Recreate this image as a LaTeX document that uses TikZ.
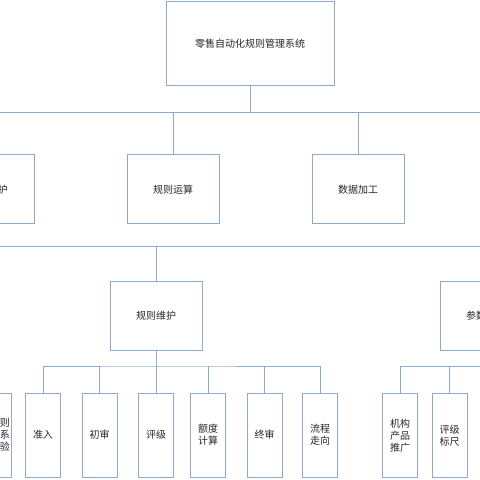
\documentclass[tikz,border=0pt]{standalone}
\usepackage{fontspec}
\newfontfamily\cjk{Noto Sans CJK SC}
\definecolor{boxblue}{RGB}{142,170,206}
\tikzset{
  box/.style={draw=boxblue, line width=0.9pt, fill=white, inner sep=0pt,
              minimum width=92pt, minimum height=69pt,
              font=\cjk\fontsize{10}{12}\selectfont, text=black!85},
  root/.style={box, minimum width=168pt, minimum height=84pt},
  leaf/.style={box, minimum width=35pt, minimum height=84pt, align=center},
  wire/.style={draw=boxblue, line width=0.9pt}
}
\begin{document}
\begin{tikzpicture}[x=1pt,y=-1pt]
  \useasboundingbox (0,0) rectangle (480,480);
  % top
  \node[root] (sys) at (250,43.3) {零售自动化规则管理系统};
  % first level
  \node[box] (weihu)   at (-12,189.3) {系统维护};
  \node[box] (yunsuan) at (173,189.3) {规则运算};
  \node[box] (jiagong) at (358,189.3) {数据加工};
  % second level
  \node[box] (gzwh) at (156,315.8) {规则维护};
  \node[box] (cswh) at (486,315.8) {参数维护};
  % leaves
  \node[leaf] (jiaoyan) at (-6.5,435) {\hspace*{13pt}规则\\\hspace*{13pt}关系\\\hspace*{13pt}校验};
  \node[leaf] (zhunru) at (43,435)    {准入};
  \node[leaf] (chushen) at (99.5,435) {初审};
  \node[leaf] (pingji) at (156,435)   {评级};
  \node[leaf] (edu) at (208,435)      {额度\\计算};
  \node[leaf] (zhongshen) at (264.5,435) {终审};
  \node[leaf] (liucheng) at (320,435) {流程\\走向};
  \node[leaf] (jigou) at (400,435.7)  {机构\\产品\\推广};
  \node[leaf] (biaochi) at (449.5,435.7) {评级\\标尺};
  % buses
  \coordinate (busA) at (250,112.5);
  \coordinate (busAend) at (490,112.5);
  \coordinate (busB) at (156,246);
  \coordinate (busBend) at (490,246);
  \coordinate (busC) at (156,366);
  \coordinate (busD) at (486,366);
  % connectors
  \draw[wire] (sys.south) -- (busA);
  \draw[wire] (weihu.north) |- (busAend);
  \draw[wire] (yunsuan.north) -- (yunsuan.north |- busA);
  \draw[wire] (jiagong.north) -- (jiagong.north |- busA);
  \draw[wire] (weihu.south) |- (busBend);
  \draw[wire] (gzwh.north) -- (busB);
  \draw[wire] (cswh.north) -- (cswh.north |- busB);
  \draw[wire] (gzwh.south) -- (busC);
  \draw[wire] (zhunru.north) |- (busC) -| (liucheng.north);
  \foreach \n in {chushen,pingji,edu,zhongshen}
    \draw[wire] (\n.north) -- (\n.north |- busC);
  \draw[wire] (cswh.south) -- (busD);
  \draw[wire] (jigou.north) |- (busD);
  \draw[wire] (biaochi.north) -- (biaochi.north |- busD);
\end{tikzpicture}
\end{document}
